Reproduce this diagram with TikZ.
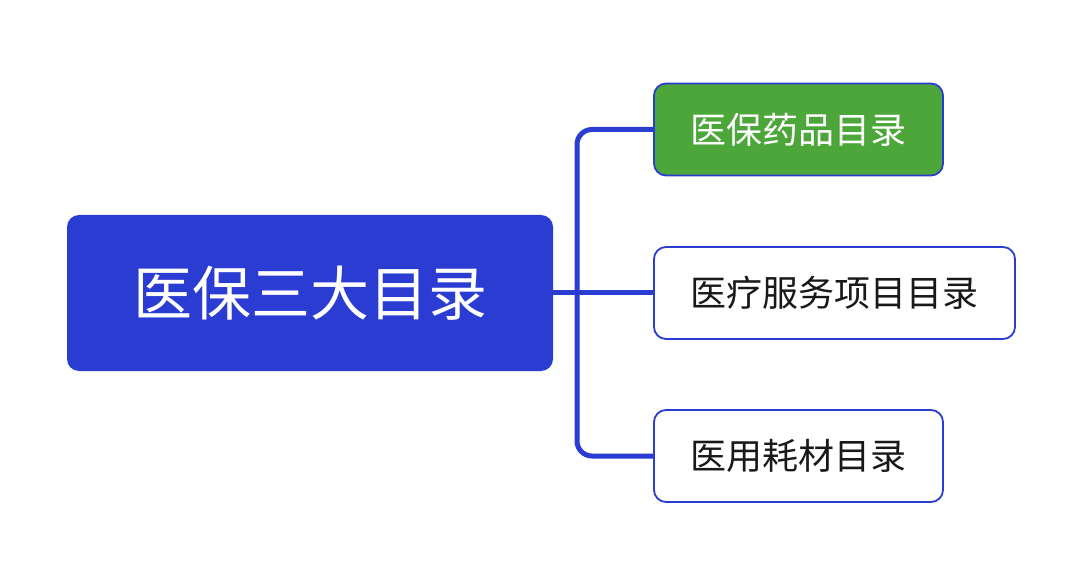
\documentclass[tikz,border=0pt]{standalone}
\usepackage{fontspec}
\setmainfont{Noto Sans CJK SC}
\definecolor{mblue}{HTML}{2B3CD3}
\definecolor{mgreen}{HTML}{4CA63A}
\begin{document}
\begin{tikzpicture}[x=1pt,y=-1pt,
  root/.style={fill=mblue,rounded corners=12pt,inner sep=0pt},
  child/.style={draw=mblue,line width=1.8pt,rounded corners=12pt,inner sep=0pt},
  link/.style={draw=mblue,line width=5pt,rounded corners=15pt}]
\useasboundingbox (0,0) rectangle (1080,572);
\fill[white] (0,0) rectangle (1080,572);
\node[root,minimum width=486pt,minimum height=156pt,text=white,font=\fontsize{59}{59}\selectfont] (r) at (310,293) {医保三大目录};
\node[child,fill=mgreen,minimum width=289pt,minimum height=92pt,text=white,font=\fontsize{36}{36}\selectfont] (a) at (798.5,129.5) {医保药品目录};
\node[child,fill=white,minimum width=361pt,minimum height=92pt,text=black!90,font=\fontsize{36}{36}\selectfont] (b) at (834.5,293) {医疗服务项目目录};
\node[child,fill=white,minimum width=289pt,minimum height=92pt,text=black!90,font=\fontsize{36}{36}\selectfont] (c) at (798.5,456) {医用耗材目录};
\coordinate (j) at (577,293);
\draw[link] (a.west) -- (j |- a.west) -- (j |- c.west) -- (c.west);
\draw[link] (r.east) -- (b.west);
\end{tikzpicture}
\end{document}
